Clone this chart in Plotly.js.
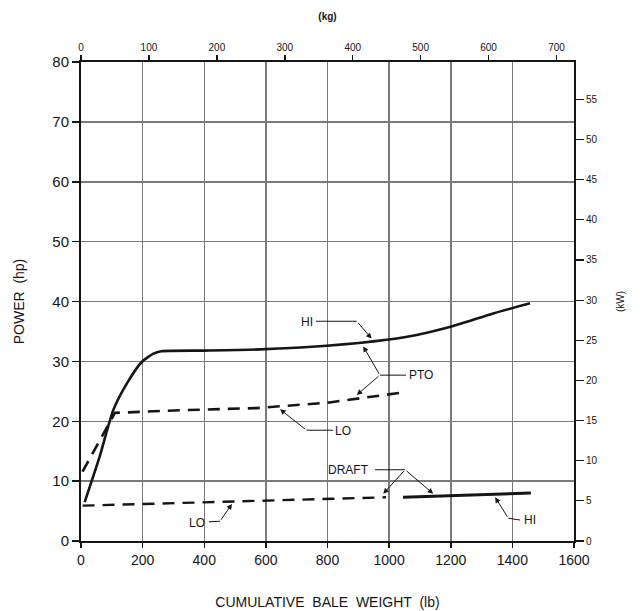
<!DOCTYPE html>
<html>
<head>
<meta charset="utf-8">
<script src="https://cdn.plot.ly/plotly-3.0.1.min.js"></script>
<style>
html,body{margin:0;padding:0;background:#fff;}
#chart{width:640px;height:611px;}
</style>
</head>
<body>
<div id="chart"></div>
<script>
// Data (x: cumulative bale weight in lb, y: power in hp)
const ptoHiWeight = [12, 60, 105, 150, 197, 235, 260, 400, 582, 797, 992, 1089, 1208, 1338, 1457];
const ptoHiPower  = [6.5, 14.0, 21.9, 26.4, 29.9, 31.3, 31.7, 31.8, 32.0, 32.6, 33.6, 34.4, 35.9, 38.0, 39.7];

const ptoLoWeight = [5, 110, 300, 570, 800, 1045];
const ptoLoPower  = [11.6, 21.4, 21.8, 22.2, 23.1, 24.8];

const draftLoWeight = [5, 990];
const draftLoPower  = [5.9, 7.3];

const draftHiWeight = [1045, 1460];
const draftHiPower  = [7.3, 8.0];

const xTickVals = [0, 200, 400, 600, 800, 1000, 1200, 1400, 1600];
const yTickVals = [0, 10, 20, 30, 40, 50, 60, 70, 80];
const kgTickVals = [0, 100, 200, 300, 400, 500, 600, 700];
const kwTickVals = [0, 5, 10, 15, 20, 25, 30, 35, 40, 45, 50, 55];

const LB_PER_KG = 2.20462;
const KW_PER_HP = 0.7457;
const xMax = 1600, yMax = 80;

const ink = '#151515';
const font = 'Liberation Sans, Arial, Helvetica, sans-serif';

const traces = [
  {x: ptoHiWeight, y: ptoHiPower, mode: 'lines', line: {color: ink, width: 2.6, shape: 'spline', smoothing: 0.6}, hoverinfo: 'skip'},
  {x: ptoLoWeight, y: ptoLoPower, mode: 'lines', line: {color: ink, width: 2.6, dash: '12px,8px'}, hoverinfo: 'skip'},
  {x: draftLoWeight, y: draftLoPower, mode: 'lines', line: {color: ink, width: 2.4, dash: '12px,8px'}, hoverinfo: 'skip'},
  {x: draftHiWeight, y: draftHiPower, mode: 'lines', line: {color: ink, width: 3}, hoverinfo: 'skip'},
  // carrier for the secondary (kg / kW) axes
  {x: ptoHiWeight.map(v => v / LB_PER_KG), y: ptoHiPower.map(v => v * KW_PER_HP), xaxis: 'x2', yaxis: 'y2',
   mode: 'lines', line: {color: 'rgba(0,0,0,0)', width: 0}, hoverinfo: 'skip'}
];

// annotation helpers: label + leader segments + arrow heads
const annotations = [];
const shapes = [];
function label(text, x, y, xanchor) {
  annotations.push({x: x, y: y, xref: 'x', yref: 'y', text: text, showarrow: false,
    xanchor: xanchor || 'center', yanchor: 'middle', font: {family: font, size: 12, color: ink}});
}
function seg(x0, y0, x1, y1) {
  shapes.push({type: 'line', xref: 'x', yref: 'y', x0: x0, y0: y0, x1: x1, y1: y1,
    line: {color: ink, width: 1}});
}
function arrow(fromX, fromY, toX, toY) {
  annotations.push({x: toX, y: toY, ax: fromX, ay: fromY, xref: 'x', yref: 'y', axref: 'x', ayref: 'y',
    text: '', showarrow: true, arrowhead: 2, arrowsize: 1.1, arrowwidth: 1, arrowcolor: ink});
}

// HI (PTO)
label('HI', 732, 36.6);
seg(763, 36.7, 895, 36.7);
arrow(895, 36.7, 943, 33.8);
// PTO
label('PTO', 1058, 27.7, 'left');
seg(970, 27.7, 1055, 27.7);
arrow(970, 27.7, 916, 32.5);
arrow(970, 27.7, 895, 24.4);
// LO (PTO)
label('LO', 851, 18.3);
seg(818, 18.5, 732, 18.5);
arrow(732, 18.5, 646, 22.0);
// DRAFT
label('DRAFT', 867, 11.9);
seg(954, 11.9, 1052, 11.9);
arrow(1052, 11.9, 981, 7.9);
arrow(1052, 11.9, 1143, 7.9);
// HI (draft)
label('HI', 1457, 3.5);
seg(1425, 3.5, 1387, 3.8);
arrow(1387, 3.8, 1344, 7.3);
// LO (draft)
label('LO', 376, 3.0);
seg(415, 3.2, 451, 3.3);
arrow(451, 3.3, 490, 6.2);

const gridColor = '#7a7a7a';

const layout = {
  width: 640, height: 611,
  margin: {l: 81, r: 66, t: 62, b: 70, pad: 0},
  paper_bgcolor: '#fff', plot_bgcolor: '#fff',
  showlegend: false,
  font: {family: font, color: ink},
  xaxis: {
    range: [0, xMax], tickvals: xTickVals, ticktext: xTickVals.map(String),
    showgrid: true, gridcolor: gridColor, gridwidth: 1.5, zeroline: false,
    showline: true, linecolor: ink, linewidth: 2,
    ticks: 'outside', ticklen: 5, tickwidth: 1.5, tickcolor: ink,
    tickfont: {family: font, size: 14, color: ink},
    title: {text: 'CUMULATIVE  BALE  WEIGHT  (lb)', font: {family: font, size: 14, color: ink}, standoff: 30},
    fixedrange: true
  },
  yaxis: {
    range: [0, yMax], tickvals: yTickVals, ticktext: yTickVals.map(String),
    showgrid: true, gridcolor: gridColor, gridwidth: 1.5, zeroline: false,
    showline: true, linecolor: ink, linewidth: 2,
    ticks: 'outside', ticklen: 7, tickwidth: 1.5, tickcolor: ink,
    tickfont: {family: font, size: 15, color: ink},
    title: {text: 'POWER  (hp)', font: {family: font, size: 14, color: ink}, standoff: 24},
    fixedrange: true
  },
  xaxis2: {
    overlaying: 'x', side: 'top', anchor: 'y2',
    range: [0, xMax / LB_PER_KG], tickvals: kgTickVals, ticktext: kgTickVals.map(String),
    showgrid: false, zeroline: false,
    showline: true, linecolor: ink, linewidth: 2,
    ticks: 'outside', ticklen: 5, tickwidth: 1.5, tickcolor: ink,
    tickfont: {family: font, size: 10, color: ink},
    title: {text: '<b>(kg)</b>', font: {family: font, size: 10, color: ink}, standoff: 20},
    fixedrange: true
  },
  yaxis2: {
    overlaying: 'y', side: 'right', anchor: 'x2',
    range: [0, yMax * KW_PER_HP], tickvals: kwTickVals, ticktext: kwTickVals.map(String),
    showgrid: false, zeroline: false,
    showline: true, linecolor: ink, linewidth: 2,
    ticks: 'outside', ticklen: 8, tickwidth: 1.2, tickcolor: ink,
    tickfont: {family: font, size: 10, color: ink},
    title: {text: '(kW)', font: {family: font, size: 10, color: ink}, standoff: 20},
    fixedrange: true
  },
  shapes: shapes,
  annotations: annotations
};

Plotly.newPlot('chart', traces, layout, {displayModeBar: false, staticPlot: true});
</script>
</body>
</html>
